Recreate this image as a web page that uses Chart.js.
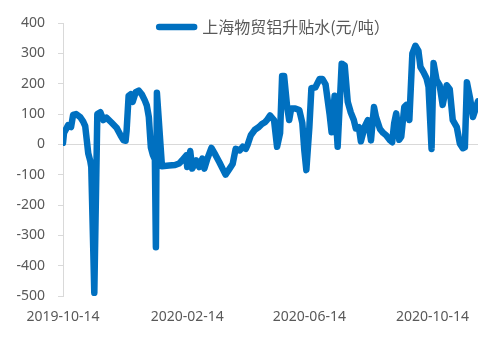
<!DOCTYPE html>
<html>
<head>
<meta charset="utf-8">
<script src="https://cdn.jsdelivr.net/npm/chart.js@4"></script>
<style>
  html, body { margin: 0; padding: 0; background: #fff; }
  #wrap { width: 500px; height: 339px; }
</style>
</head>
<body>
<div id="wrap"><canvas id="chart"></canvas></div>
<script>
// 上海物贸铝升贴水 — daily premium/discount, 元/吨
const START_DATE = '2019-10-14';
const tickLabels = ['2019-10-14', '2020-02-14', '2020-06-14', '2020-10-14'];

// days since START_DATE
const dayOffsets = [
    0, 1, 3, 5, 8, 10, 13, 17, 20, 22, 23, 25, 27, 28, 31, 34, 37, 40, 43, 48,
    53, 57, 60, 62, 63, 65, 67, 69, 72, 75, 78, 81, 83, 85, 87, 89, 91, 92, 93, 98,
    105, 111, 115, 118, 122, 123, 126, 128, 132, 135, 138, 140, 143, 147, 151, 155, 158, 161, 165, 168,
    171, 175, 178, 181, 183, 186, 190, 194, 197, 200, 202, 205, 209, 212, 215, 217, 219, 222, 224, 226,
    230, 234, 237, 239, 241, 244, 246, 250, 254, 257, 260, 264, 266, 269, 272, 276, 279, 282, 285, 288,
    290, 293, 295, 299, 302, 305, 308, 310, 314, 317, 320, 324, 326, 328, 330, 333, 335, 338, 340, 343,
    346, 349, 352, 354, 357, 360, 362, 365, 367, 370, 373, 376, 380, 383, 386, 390, 393, 396, 398, 400,
    403, 406, 411
];
const premium = [
    5, 38, 50, 63, 57, 97, 100, 90, 75, 60, 30, -30, -55, -75, -490, 100, 106, 80, 88, 72,
    55, 30, 13, 12, 45, 160, 165, 140, 172, 177, 165, 145, 128, 90, -10, -35, -50, -339, 170, -72,
    -70, -68, -63, -53, -37, -75, -22, -80, -53, -75, -47, -80, -47, -12, -35, -60, -80, -100, -80, -65,
    -15, -20, -8, -15, 0, 30, 48, 57, 67, 73, 80, 95, 80, -8, 37, 225, 225, 123, 80, 118,
    118, 113, 70, -20, -85, 57, 185, 188, 215, 215, 198, 100, 40, 160, -8, 266, 260, 140, 105, 80,
    52, 57, 10, 60, 80, 13, 123, 90, 50, 38, 30, 13, 7, 70, 102, 15, 25, 123, 130, 80,
    300, 325, 308, 255, 238, 218, 190, -15, 268, 212, 195, 130, 195, 182, 80, 57, 3, -13, -10, 205,
    155, 90, 142
];

const LINE_COLOR = '#0070C0';
const LINE_WIDTH = 6.5;
const TEXT_COLOR = '#595959';
const AXIS_COLOR = '#d9d9d9';

const DAY_MS = 864e5;
const startMs = Date.parse(START_DATE + 'T00:00:00Z');
const toDay = s => Math.round((Date.parse(s + 'T00:00:00Z') - startMs) / DAY_MS);
const toDate = d => new Date(startMs + d * DAY_MS).toISOString().slice(0, 10);

const tickDays = tickLabels.map(toDay);
const points = dayOffsets.map((d, i) => ({ x: d, y: premium[i] }));

// legend floats over the top of the plot, centred on it
const legendOverPlot = {
    id: 'legendOverPlot',
    afterLayout(chart) {
        const lg = chart.legend;
        const area = chart.chartArea;
        const opts = lg.options.labels;
        const pad = opts.padding;
        const size = opts.font.size;
        const itemW = lg.width - 10 - pad * 2;
        const cx = (area.left + area.right) / 2 + 2;
        const cy = area.top + 4;
        lg.left = cx - itemW / 2 - pad;
        lg.top = cy - size / 2 - pad;
        lg.right = lg.left + itemW + pad * 2 + 10;
        lg.bottom = lg.top + size + pad * 2;
    }
};

new Chart(document.getElementById('chart'), {
    type: 'line',
    data: {
        datasets: [{
            label: '上海物贸铝升贴水(元/吨）',
            data: points,
            borderColor: LINE_COLOR,
            backgroundColor: LINE_COLOR,
            borderWidth: LINE_WIDTH,
            borderJoinStyle: 'round',
            borderCapStyle: 'round',
            pointRadius: 0,
            tension: 0,
            fill: false
        }]
    },
    options: {
        responsive: true,
        maintainAspectRatio: false,
        animation: false,
        devicePixelRatio: 1,
        layout: { padding: { top: 23, right: 22, bottom: 0, left: 0 } },
        plugins: {
            tooltip: { enabled: false },
            legend: {
                position: 'chartArea',
                fullSize: false,
                align: 'start',
                labels: {
                    color: TEXT_COLOR,
                    font: { family: '"Noto Sans CJK SC", "Noto Sans", sans-serif', size: 16 },
                    padding: 4,
                    usePointStyle: true,
                    pointStyle: 'line',
                    pointStyleWidth: 35,
                    generateLabels: chart => Chart.defaults.plugins.legend.labels.generateLabels(chart)
                        .map(item => ({ ...item, lineCap: 'round', lineWidth: LINE_WIDTH, strokeStyle: LINE_COLOR }))
                }
            }
        },
        scales: {
            x: {
                type: 'linear',
                min: 0,
                max: 411,
                grid: { display: false },
                border: { display: false },
                afterFit: s => { s.height = 43; },
                afterBuildTicks: s => { s.ticks = tickDays.map(v => ({ value: v })); },
                ticks: {
                    autoSkip: false,
                    maxRotation: 0,
                    padding: 5,
                    color: TEXT_COLOR,
                    font: { family: '"Noto Sans", sans-serif', size: 14 },
                    callback: v => toDate(v)
                }
            },
            y: {
                min: -500,
                max: 400,
                afterFit: s => { s.width = 63; },
                grid: {
                    color: ctx => (ctx.tick && ctx.tick.value === 0 ? AXIS_COLOR : 'rgba(0,0,0,0)'),
                    tickColor: AXIS_COLOR,
                    tickLength: 5,
                    lineWidth: 1
                },
                border: { display: true, color: AXIS_COLOR },
                ticks: {
                    stepSize: 100,
                    padding: 13,
                    color: TEXT_COLOR,
                    font: { family: '"Noto Sans", sans-serif', size: 14 }
                }
            }
        }
    },
    plugins: [legendOverPlot]
});
</script>
</body>
</html>
